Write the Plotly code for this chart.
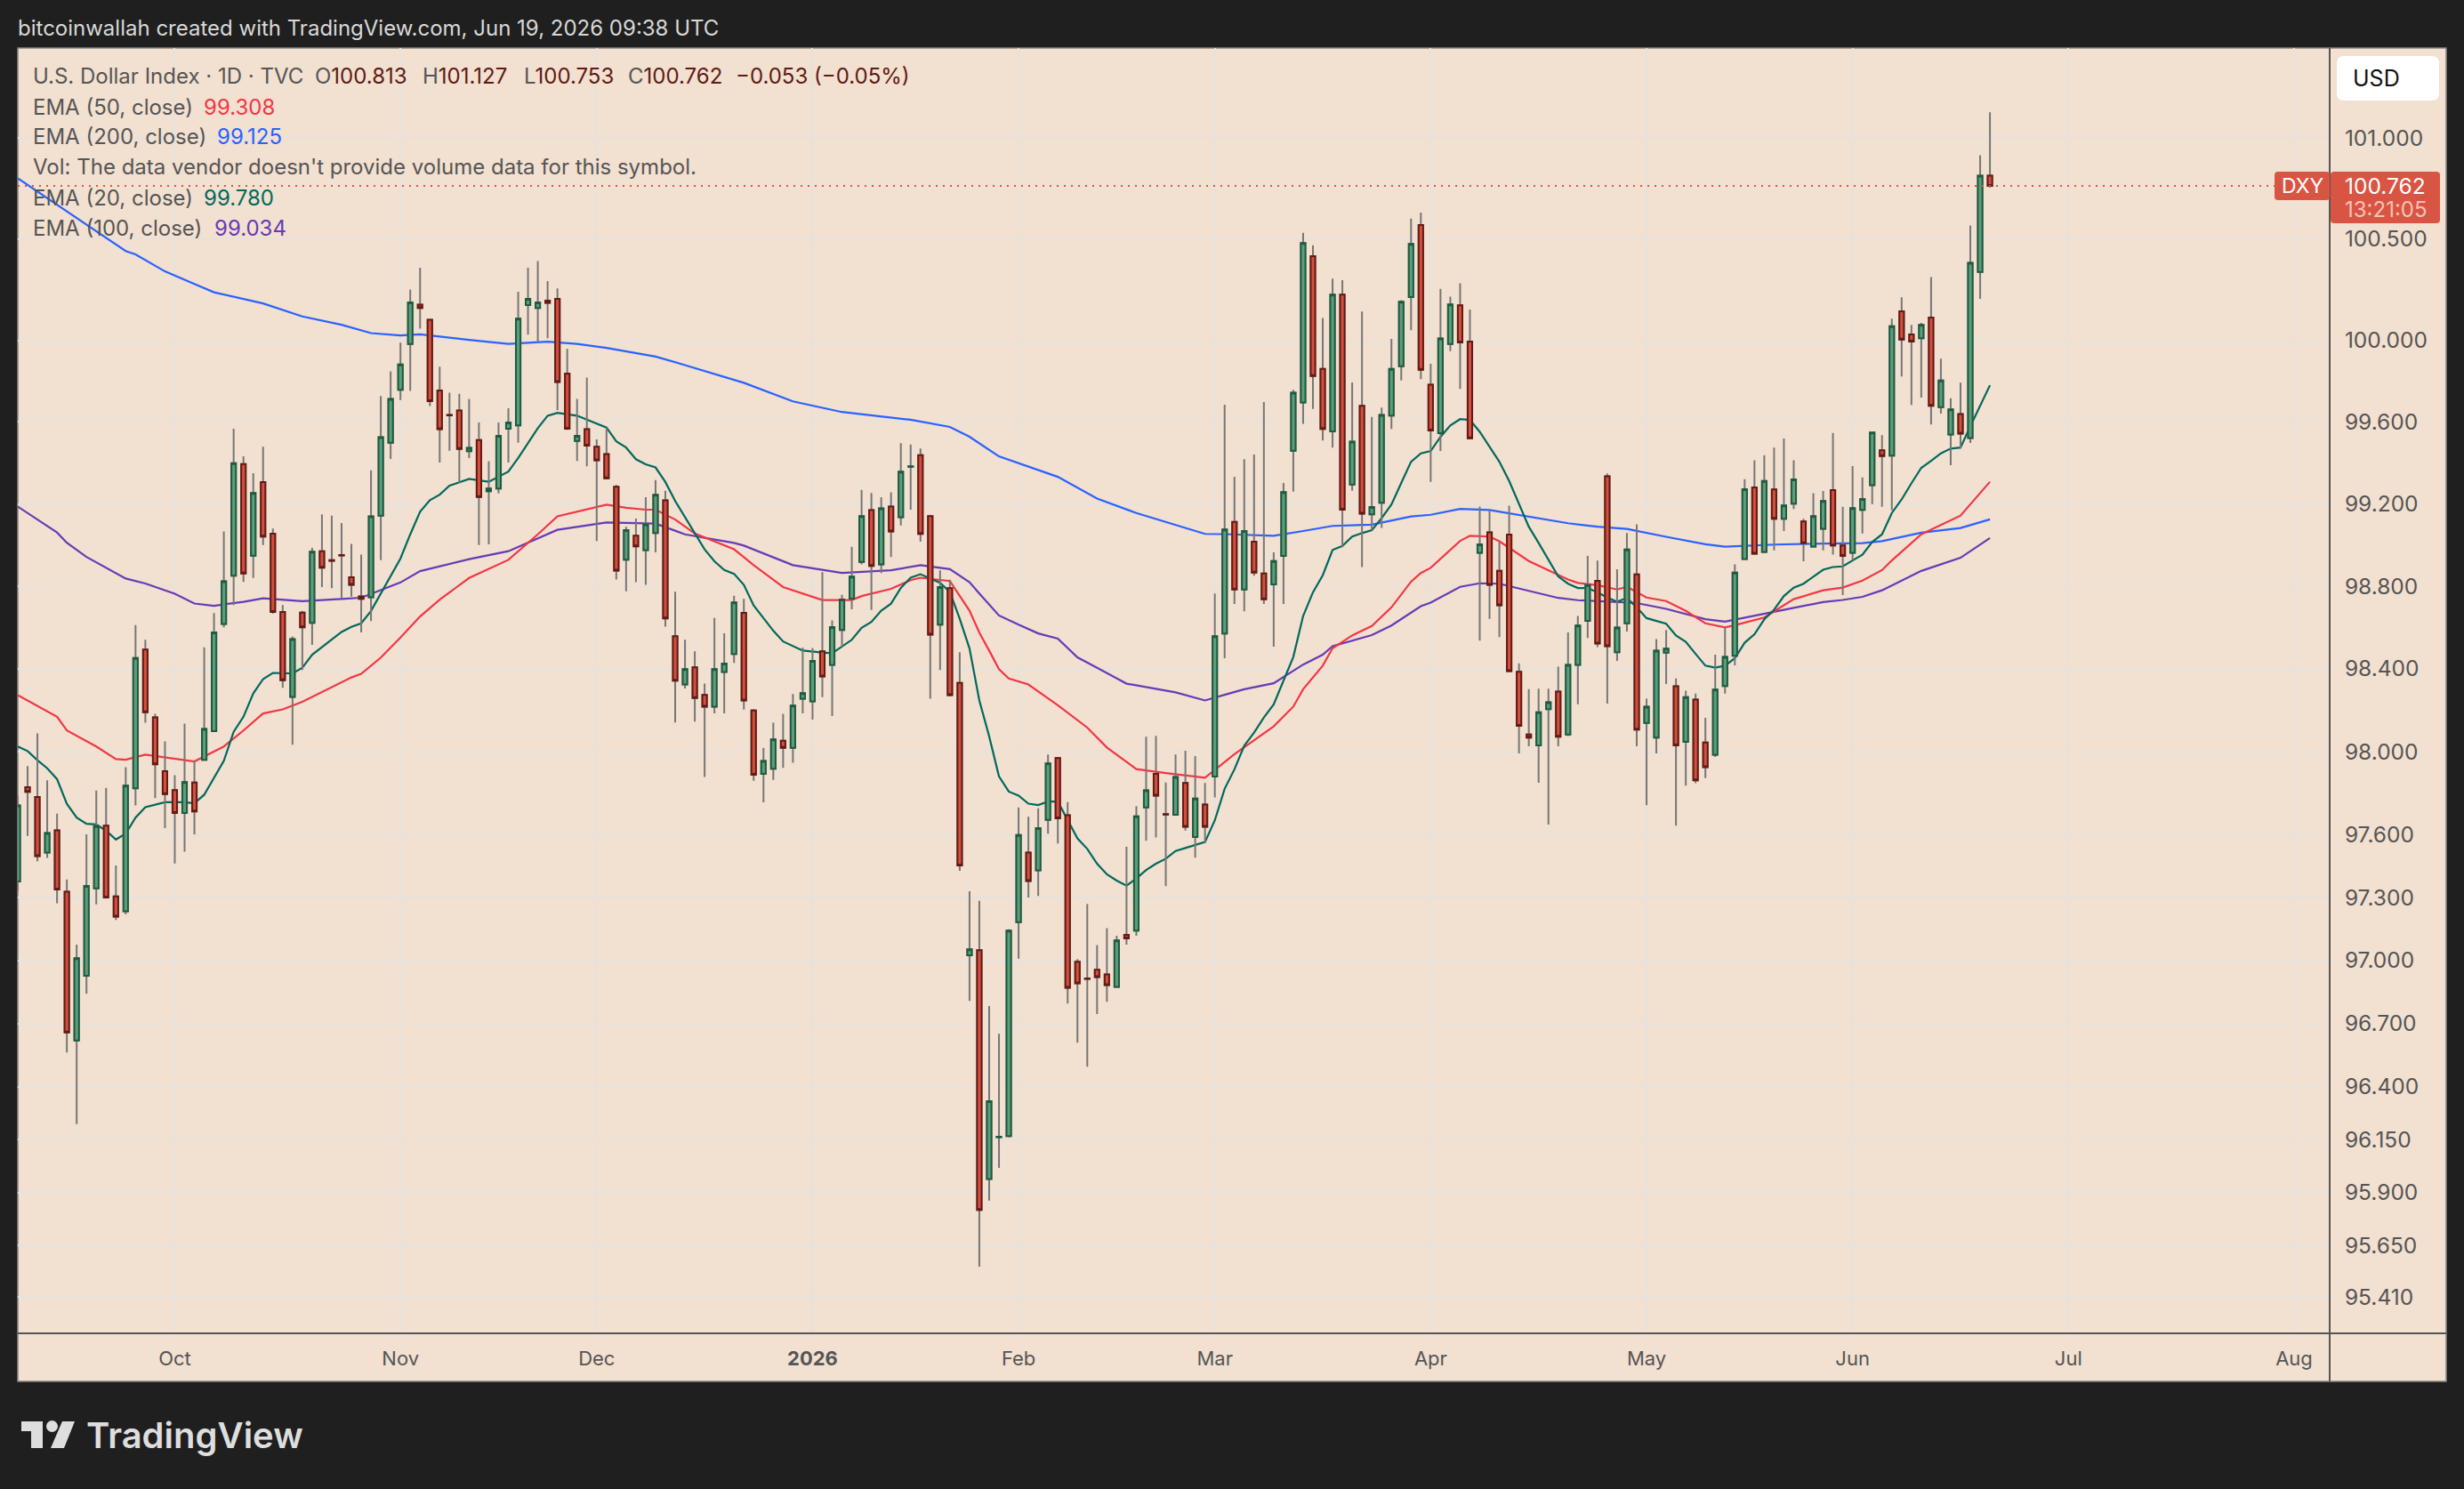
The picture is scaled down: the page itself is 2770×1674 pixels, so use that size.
import math
import pandas as pd
import plotly.graph_objects as go

# Daily bars
holidays = ["2025-12-25", "2026-01-01"]
bar_dates = pd.bdate_range("2025-09-09", "2026-06-19").strftime("%Y-%m-%d")
bar_dates = [d for d in bar_dates if d not in holidays]

open_px = [
    97.377, 97.829, 97.782, 97.515, 97.622, 97.328, 96.619, 96.927, 97.344, 97.644,
    97.306, 97.234, 97.824, 98.493, 98.165, 97.906, 97.815, 97.705, 97.851, 97.961,
    98.099, 98.617, 98.851, 99.394, 98.948, 99.306, 99.055, 98.675, 98.264, 98.672,
    98.622, 98.97, 98.926, 98.951, 98.843, 98.75, 98.746, 99.143, 99.499, 99.758,
    99.983, 100.176, 100.102, 99.755, 99.635, 99.656, 99.457, 99.512, 99.262, 99.275,
    99.567, 99.584, 100.174, 100.16, 100.196, 100.204, 99.837, 99.507, 99.565, 99.479,
    99.443, 99.284, 98.929, 99.045, 98.975, 99.058, 99.218, 98.557, 98.324, 98.407,
    98.274, 98.217, 98.384, 98.471, 98.671, 98.199, 97.893, 97.918, 98.053, 98.018,
    98.255, 98.242, 98.484, 98.419, 98.588, 98.74, 98.918, 99.17, 98.906, 99.187,
    99.135, 99.381, 99.438, 99.141, 98.613, 98.79, 98.332, 97.024, 97.049, 95.964,
    96.161, 96.166, 97.182, 97.515, 97.43, 97.672, 97.969, 97.695, 96.994, 96.914,
    96.955, 96.933, 96.874, 97.122, 97.142, 97.732, 97.893, 97.70, 97.697, 97.849,
    97.59, 97.746, 97.88, 98.57, 99.112, 98.784, 99.016, 98.862, 98.809, 98.947,
    99.46, 99.696, 100.415, 99.86, 99.554, 100.225, 99.295, 99.679, 99.149, 99.206,
    99.631, 99.873, 100.213, 100.569, 99.783, 99.545, 99.983, 100.173, 99.994, 98.962,
    99.062, 98.874, 99.051, 98.385, 98.083, 98.03, 98.205, 98.29, 98.083, 98.419,
    98.632, 98.826, 99.335, 98.48, 98.62, 98.857, 98.138, 98.068, 98.478, 98.315,
    98.047, 98.251, 98.044, 97.985, 98.317, 98.463, 98.932, 99.28, 98.966, 99.271,
    99.128, 99.201, 99.115, 98.992, 99.079, 99.267, 98.998, 98.962, 99.171, 99.291,
    99.462, 99.436, 100.143, 100.03, 100.011, 100.113, 99.673, 99.539, 99.639, 99.522,
    100.337, 100.813,
]
high_px = [
    97.79, 97.931, 98.088, 97.862, 97.702, 97.386, 97.075, 97.603, 97.813, 97.826,
    97.454, 97.925, 98.611, 98.54, 98.182, 98.049, 97.887, 98.135, 97.956, 98.504,
    98.669, 99.066, 99.567, 99.432, 99.35, 99.479, 99.08, 98.708, 98.556, 98.68,
    98.986, 99.149, 99.143, 99.107, 99.005, 98.953, 99.364, 99.727, 99.848, 99.989,
    100.251, 100.358, 100.105, 99.871, 99.744, 99.738, 99.713, 99.598, 99.408, 99.598,
    99.667, 100.24, 100.358, 100.391, 100.292, 100.256, 99.959, 99.713, 99.818, 99.515,
    99.573, 99.292, 99.089, 99.129, 99.233, 99.316, 99.264, 98.773, 98.54, 98.484,
    98.328, 98.646, 98.571, 98.754, 98.738, 98.205, 98.018, 98.139, 98.182, 98.278,
    98.503, 98.50, 98.868, 98.634, 98.758, 98.991, 99.268, 99.253, 99.233, 99.257,
    99.497, 99.49, 99.47, 99.147, 98.877, 98.831, 98.48, 97.33, 97.284, 96.783,
    96.651, 97.148, 97.732, 97.687, 97.728, 97.986, 97.969, 97.757, 97.006, 97.27,
    97.073, 97.154, 97.118, 97.543, 97.738, 98.072, 98.076, 97.852, 97.986, 98.004,
    97.979, 97.849, 98.764, 99.685, 99.333, 99.418, 99.441, 99.698, 98.964, 99.302,
    99.758, 100.53, 100.469, 100.11, 100.304, 100.296, 99.794, 100.142, 99.625, 99.671,
    100.008, 100.198, 100.60, 100.63, 99.885, 100.254, 100.215, 100.281, 100.152, 99.187,
    99.17, 99.014, 99.191, 98.426, 98.302, 98.304, 98.304, 98.41, 98.576, 98.655,
    98.947, 98.924, 99.349, 98.882, 99.058, 99.101, 98.255, 98.543, 98.588, 98.353,
    98.294, 98.28, 98.163, 98.468, 98.603, 98.906, 99.321, 99.413, 99.438, 99.475,
    99.519, 99.413, 99.128, 99.252, 99.263, 99.547, 99.186, 99.385, 99.329, 99.551,
    99.536, 100.107, 100.212, 100.077, 100.086, 100.312, 99.91, 99.716, 99.793, 100.566,
    100.914, 101.127,
]
low_px = [
    97.33, 97.595, 97.474, 97.490, 97.273, 96.562, 96.223, 96.841, 97.267, 97.295,
    97.193, 97.22, 97.741, 98.14, 97.777, 97.633, 97.463, 97.52, 97.603, 97.96,
    98.095, 98.60, 98.708, 98.821, 98.84, 99.0, 98.667, 98.308, 98.033, 98.394,
    98.515, 98.796, 98.79, 98.741, 98.749, 98.576, 98.631, 98.926, 99.419, 99.708,
    99.752, 100.058, 99.678, 99.402, 99.46, 99.303, 99.424, 99.0, 99.003, 99.251,
    99.402, 99.499, 100.028, 99.989, 100.011, 99.658, 99.562, 99.41, 99.383, 99.019,
    99.32, 98.832, 98.775, 98.819, 98.806, 98.964, 98.604, 98.141, 98.305, 98.145,
    97.878, 98.184, 98.184, 98.428, 98.203, 97.86, 97.756, 97.864, 97.922, 97.947,
    98.184, 98.155, 98.263, 98.172, 98.507, 98.688, 98.906, 98.685, 98.864, 98.941,
    99.095, 99.172, 99.016, 98.255, 98.394, 98.266, 97.428, 96.807, 95.552, 95.862,
    96.016, 96.16, 97.008, 97.30, 97.308, 97.606, 97.559, 96.795, 96.609, 96.495,
    96.745, 96.803, 96.87, 97.075, 97.118, 97.572, 97.588, 97.355, 97.695, 97.621,
    97.491, 97.561, 97.78, 98.451, 98.714, 98.678, 98.851, 98.714, 98.507, 98.714,
    99.26, 99.591, 99.664, 99.51, 99.475, 98.989, 99.264, 98.893, 99.072, 99.083,
    99.566, 99.804, 100.05, 99.81, 99.308, 99.458, 99.948, 99.762, 99.515, 98.536,
    98.641, 98.553, 98.383, 97.992, 98.026, 97.85, 97.65, 98.026, 98.075, 98.228,
    98.549, 98.505, 98.232, 98.438, 98.58, 98.026, 97.742, 97.992, 98.326, 97.644,
    97.837, 97.848, 97.873, 97.975, 98.28, 98.417, 98.928, 98.953, 98.96, 98.974,
    99.068, 99.175, 98.921, 98.99, 98.974, 98.953, 98.757, 98.925, 99.056, 99.199,
    99.186, 99.169, 99.823, 99.684, 99.72, 99.588, 99.641, 99.389, 99.47, 99.498,
    100.205, 100.753,
]
close_px = [
    97.741, 97.807, 97.498, 97.609, 97.339, 96.657, 97.011, 97.356, 97.642, 97.30,
    97.209, 97.837, 98.452, 98.19, 97.939, 97.796, 97.705, 97.854, 97.713, 98.11,
    98.576, 98.824, 99.399, 98.862, 99.253, 99.041, 98.675, 98.344, 98.543, 98.60,
    98.967, 98.89, 98.923, 98.949, 98.807, 98.738, 99.14, 99.526, 99.713, 99.882,
    100.187, 100.16, 99.702, 99.565, 99.633, 99.468, 99.474, 99.234, 99.275, 99.532,
    99.598, 100.107, 100.204, 100.187, 100.185, 99.796, 99.567, 99.532, 99.485, 99.413,
    99.325, 98.876, 99.072, 98.993, 99.101, 99.245, 98.644, 98.342, 98.398, 98.259,
    98.217, 98.398, 98.425, 98.721, 98.247, 97.889, 97.955, 98.059, 98.018, 98.222,
    98.282, 98.438, 98.363, 98.602, 98.735, 98.846, 99.141, 98.898, 99.178, 99.066,
    99.357, 99.383, 99.054, 98.565, 98.796, 98.272, 97.454, 97.053, 95.818, 96.332,
    96.163, 97.142, 97.6, 97.379, 97.633, 97.944, 97.68, 96.87, 96.891, 96.912,
    96.921, 96.882, 97.095, 97.105, 97.689, 97.814, 97.788, 97.698, 97.878, 97.639,
    97.775, 97.639, 98.557, 99.076, 98.784, 99.068, 98.866, 98.736, 98.922, 99.258,
    99.744, 100.48, 99.825, 99.566, 100.225, 99.172, 99.504, 99.153, 99.185, 99.635,
    99.86, 100.19, 100.475, 99.856, 99.558, 100.01, 100.177, 99.99, 99.52, 99.003,
    98.807, 98.707, 98.389, 98.124, 98.068, 98.19, 98.238, 98.072, 98.419, 98.609,
    98.805, 98.522, 98.509, 98.599, 98.978, 98.106, 98.217, 98.488, 98.497, 98.03,
    98.263, 97.862, 97.925, 98.299, 98.457, 98.866, 99.272, 98.958, 99.312, 99.128,
    99.193, 99.319, 99.009, 99.141, 99.214, 98.998, 98.947, 99.18, 99.224, 99.549,
    99.434, 100.07, 100.004, 99.994, 100.077, 99.679, 99.804, 99.662, 99.543, 100.382,
    100.813, 100.762,
]

# EMA lines, read at the listed bar numbers
ema200_bars = [0, 11, 12, 14, 15, 18, 20, 25, 29, 33, 36, 39, 41, 46, 50, 54, 57, 60, 65, 68, 74, 79, 84, 91, 95, 97,
               100, 106, 110, 114, 118, 121, 123, 128, 131, 134, 138, 142, 144, 147, 150, 154, 158, 161, 164, 168, 172,
               174, 179, 184, 188, 190, 194, 198, 201]
ema200_vals = [100.80, 100.44, 100.424, 100.366, 100.34, 100.278, 100.237, 100.182, 100.118, 100.077, 100.036, 100.025,
               100.03, 100.003, 99.983, 99.994, 99.983, 99.963, 99.921, 99.879, 99.792, 99.701, 99.649, 99.611, 99.576,
               99.528, 99.432, 99.332, 99.226, 99.156, 99.099, 99.054, 99.053, 99.045, 99.068, 99.093, 99.099, 99.139,
               99.147, 99.176, 99.17, 99.139, 99.106, 99.089, 99.078, 99.04, 99.004, 98.992, 99.002, 99.007, 99.009,
               99.019, 99.06, 99.083, 99.125]
ema100_bars = [0, 4, 5, 7, 11, 13, 16, 18, 20, 23, 25, 29, 33, 35, 39, 41, 46, 50, 55, 60, 65, 68, 73, 74, 79, 84, 89,
               92, 95, 97, 98, 99, 100, 102, 104, 106, 108, 110, 113, 118, 121, 123, 125, 128, 131, 133, 134, 138, 140,
               143, 144, 147, 149, 151, 154, 157, 159, 162, 165, 168, 172, 174, 176, 181, 184, 186, 188, 190, 194, 198,
               201]
ema100_vals = [99.187, 99.061, 99.011, 98.942, 98.837, 98.813, 98.763, 98.716, 98.705, 98.724, 98.741, 98.727, 98.738,
               98.744, 98.818, 98.873, 98.931, 98.97, 99.074, 99.11, 99.104, 99.052, 99.01, 98.997, 98.902, 98.864,
               98.877, 98.902, 98.883, 98.819, 98.764, 98.71, 98.658, 98.613, 98.571, 98.546, 98.455, 98.405, 98.328,
               98.286, 98.247, 98.274, 98.301, 98.33, 98.42, 98.468, 98.509, 98.563, 98.609, 98.703, 98.72, 98.797,
               98.814, 98.812, 98.778, 98.743, 98.732, 98.726, 98.718, 98.69, 98.64, 98.628, 98.648, 98.695, 98.723,
               98.733, 98.748, 98.78, 98.874, 98.938, 99.034]
ema50_bars = [0, 4, 5, 8, 10, 11, 13, 16, 18, 21, 23, 25, 27, 29, 34, 35, 37, 39, 41, 43, 46, 50, 53, 55, 59, 60, 62,
              64, 65, 67, 69, 73, 74, 75, 78, 82, 85, 86, 89, 91, 92, 95, 97, 98, 99, 100, 101, 103, 105, 106, 109,
              111, 114, 117, 121, 123, 124, 128, 130, 131, 133, 134, 136, 138, 140, 142, 143, 144, 147, 148, 150, 151,
              154, 158, 159, 161, 163, 164, 166, 168, 170, 172, 174, 175, 178, 181, 184, 186, 188, 190, 191, 194, 198,
              201]
ema50_vals = [98.273, 98.168, 98.102, 98.025, 97.964, 97.961, 97.986, 97.967, 97.953, 98.025, 98.102, 98.184, 98.204,
              98.24, 98.358, 98.375, 98.454, 98.551, 98.653, 98.735, 98.84, 98.928, 99.052, 99.14, 99.187, 99.196,
              99.181, 99.172, 99.172, 99.124, 99.056, 98.979, 98.941, 98.902, 98.796, 98.733, 98.733, 98.752, 98.787,
              98.829, 98.841, 98.825, 98.681, 98.575, 98.488, 98.398, 98.353, 98.324, 98.257, 98.224, 98.116, 98.02,
              97.916, 97.897, 97.875, 97.952, 97.988, 98.122, 98.217, 98.301, 98.415, 98.499, 98.561, 98.607, 98.697,
              98.822, 98.864, 98.889, 99.02, 99.045, 99.041, 99.018, 98.922, 98.832, 98.816, 98.805, 98.784, 98.797,
              98.745, 98.728, 98.68, 98.62, 98.6, 98.611, 98.648, 98.737, 98.78, 98.793, 98.827, 98.878, 98.925,
              99.052, 99.143, 99.308]
ema20_bars = [0, 1, 2, 3, 4, 5, 6, 7, 8, 9, 10, 11, 12, 13, 15, 17, 18, 19, 21, 22, 23, 24, 25, 26, 28, 29, 30, 33, 34,
              35, 36, 37, 39, 40, 41, 42, 43, 44, 46, 48, 50, 51, 53, 54, 55, 57, 60, 61, 62, 63, 64, 65, 66, 67, 68,
              69, 70, 71, 72, 73, 74, 75, 77, 78, 80, 82, 83, 85, 86, 87, 88, 89, 90, 91, 92, 94, 95, 96, 97, 98, 99,
              100, 101, 102, 103, 104, 105, 106, 107, 108, 109, 110, 111, 112, 113, 114, 115, 116, 117, 118, 119, 120,
              121, 122, 123, 124, 125, 126, 127, 128, 129, 130, 131, 132, 133, 134, 135, 136, 137, 138, 139, 140, 141,
              142, 143, 144, 145, 146, 147, 148, 149, 150, 151, 152, 153, 154, 155, 156, 157, 158, 159, 160, 161, 162,
              163, 164, 165, 166, 167, 168, 169, 170, 171, 172, 173, 174, 175, 176, 177, 178, 179, 180, 181, 182, 183,
              184, 185, 186, 187, 188, 189, 190, 191, 192, 193, 194, 195, 196, 197, 198, 199, 200, 201]
ema20_vals = [98.025, 98.003, 97.959, 97.92, 97.868, 97.749, 97.683, 97.653, 97.65, 97.62, 97.578, 97.606, 97.683,
              97.733, 97.757, 97.757, 97.752, 97.793, 97.956, 98.096, 98.168, 98.281, 98.35, 98.38, 98.377, 98.405,
              98.468, 98.578, 98.603, 98.62, 98.68, 98.763, 98.934, 99.052, 99.162, 99.218, 99.245, 99.289, 99.322,
              99.308, 99.358, 99.424, 99.57, 99.631, 99.645, 99.631, 99.573, 99.506, 99.475, 99.418, 99.393, 99.378,
              99.307, 99.214, 99.137, 99.056, 98.979, 98.921, 98.879, 98.86, 98.806, 98.706, 98.584, 98.532, 98.488,
              98.478, 98.475, 98.54, 98.598, 98.627, 98.681, 98.715, 98.792, 98.841, 98.858, 98.816, 98.771, 98.642,
              98.498, 98.247, 98.074, 97.881, 97.808, 97.789, 97.75, 97.743, 97.76, 97.76, 97.67, 97.583, 97.533,
              97.462, 97.411, 97.381, 97.357, 97.391, 97.432, 97.462, 97.486, 97.523, 97.537, 97.553, 97.566, 97.67,
              97.821, 97.915, 98.029, 98.092, 98.165, 98.228, 98.342, 98.457, 98.655, 98.77, 98.853, 98.976, 98.995,
              99.041, 99.058, 99.072, 99.131, 99.197, 99.302, 99.406, 99.447, 99.458, 99.527, 99.583, 99.614, 99.61,
              99.552, 99.479, 99.406, 99.312, 99.197, 99.089, 99.01, 98.926, 98.847, 98.812, 98.791, 98.791, 98.77,
              98.745, 98.724, 98.743, 98.697, 98.645, 98.63, 98.618, 98.561, 98.53, 98.472, 98.415, 98.405, 98.415,
              98.451, 98.526, 98.567, 98.639, 98.686, 98.752, 98.793, 98.812, 98.846, 98.88, 98.893, 98.896, 98.925,
              98.953, 99.015, 99.052, 99.156, 99.222, 99.301, 99.376, 99.41, 99.447, 99.47, 99.475, 99.579, 99.682,
              99.78]

price_ticks = [101, 100.5, 100, 99.6, 99.2, 98.8, 98.4, 98, 97.6, 97.3, 97, 96.7, 96.4, 96.15, 95.9, 95.65, 95.41]
month_ticks = ["2025-10-01", "2025-11-03", "2025-12-01", "2026-01-02", "2026-02-02", "2026-03-02", "2026-04-01",
               "2026-05-01", "2026-06-01", "2026-07-01", "2026-08-03"]
month_labels = ["Oct", "Nov", "Dec", "<b>2026</b>", "Feb", "Mar", "Apr", "May", "Jun", "Jul", "Aug"]

# Colours
BG = "#f2e0d0"
DARK = "#1f1f1f"
GRID = "#e6e2dd"
AXIS = "#555555"
TEXT = "#555555"
MAROON = "#5e1a14"
RED_LABEL = "#d95543"
C_EMA50 = "#f23645"
C_EMA200 = "#2962ff"
C_EMA20 = "#00695c"
C_EMA100 = "#673ab7"
FONT = "Inter"

# Pane edges in page pixels
W, H = 2770, 1674
LEFT, RIGHT, TOP, BOTTOM = 20, 2619, 54, 1499
OUTER_R, OUTER_B = 2750, 1553


def px(x):
    return (x - LEFT) / (RIGHT - LEFT)


def py(y):
    return (BOTTOM - y) / (BOTTOM - TOP)


def round_rect(x0, y0, x1, y1, r):
    return (f"M {px(x0 + r)} {py(y0)} L {px(x1 - r)} {py(y0)} Q {px(x1)} {py(y0)} {px(x1)} {py(y0 + r)} "
            f"L {px(x1)} {py(y1 - r)} Q {px(x1)} {py(y1)} {px(x1 - r)} {py(y1)} L {px(x0 + r)} {py(y1)} "
            f"Q {px(x0)} {py(y1)} {px(x0)} {py(y1 - r)} L {px(x0)} {py(y0 + r)} Q {px(x0)} {py(y0)} {px(x0 + r)} {py(y0)} Z")


fig = go.Figure()


def ema_trace(bars, vals, color, name):
    fig.add_trace(go.Scatter(x=[bar_dates[i] for i in bars], y=vals, mode="lines", name=name,
                             line=dict(color=color, width=2.2), hoverinfo="skip", zorder=0))


ema_trace(ema200_bars, ema200_vals, C_EMA200, "EMA 200")
ema_trace(ema100_bars, ema100_vals, C_EMA100, "EMA 100")
ema_trace(ema50_bars, ema50_vals, C_EMA50, "EMA 50")
ema_trace(ema20_bars, ema20_vals, C_EMA20, "EMA 20")

# Wicks are grey in the picture, bodies have a darker border, so two traces
WICK = dict(line=dict(color="#777777", width=2), fillcolor="#777777")
fig.add_trace(go.Candlestick(x=bar_dates, open=open_px, high=high_px, low=low_px, close=close_px,
                             increasing=WICK, decreasing=WICK, whiskerwidth=0, hoverinfo="skip", zorder=1))
fig.add_trace(go.Candlestick(x=bar_dates, open=open_px, close=close_px,
                             high=[max(o, c) for o, c in zip(open_px, close_px)],
                             low=[min(o, c) for o, c in zip(open_px, close_px)],
                             increasing=dict(line=dict(color="#1d5c40", width=2), fillcolor="#5f9e7c"),
                             decreasing=dict(line=dict(color="#651a13", width=2), fillcolor="#d2503f"),
                             whiskerwidth=0, hoverinfo="skip", zorder=2))

# Last price line
fig.add_trace(go.Scatter(x=[bar_dates[0], "2026-07-30"], y=[close_px[-1], close_px[-1]], mode="lines",
                         line=dict(color="#d95543", width=2, dash="2px,6px"), hoverinfo="skip", zorder=3))

shapes = [
    # beige chart card
    dict(type="rect", xref="paper", yref="paper", x0=px(LEFT), x1=px(OUTER_R), y0=py(TOP), y1=py(OUTER_B),
         fillcolor=BG, line=dict(color="#8a8580", width=1.5), layer="below"),
    # axis dividers
    dict(type="line", xref="paper", yref="paper", x0=px(RIGHT), x1=px(RIGHT), y0=py(TOP), y1=py(OUTER_B),
         line=dict(color=AXIS, width=2)),
    dict(type="line", xref="paper", yref="paper", x0=px(LEFT), x1=px(OUTER_R), y0=py(BOTTOM), y1=py(BOTTOM),
         line=dict(color=AXIS, width=2)),
    # USD button and price labels
    dict(type="path", xref="paper", yref="paper", path=round_rect(2627, 63, 2742, 113, 8), fillcolor="#ffffff",
         line=dict(width=0)),
    dict(type="path", xref="paper", yref="paper", path=round_rect(2557, 193, 2619, 225, 4), fillcolor=RED_LABEL,
         line=dict(width=0)),
    dict(type="path", xref="paper", yref="paper", path=round_rect(2620, 193, 2743, 251, 4), fillcolor=RED_LABEL,
         line=dict(width=0)),
    # TradingView mark
    dict(type="rect", xref="paper", yref="paper", x0=px(24), x1=px(48), y0=py(1598), y1=py(1609),
         fillcolor="#dedede", line=dict(width=0)),
    dict(type="rect", xref="paper", yref="paper", x0=px(35), x1=px(48), y0=py(1598), y1=py(1628),
         fillcolor="#dedede", line=dict(width=0)),
    dict(type="circle", xref="paper", yref="paper", x0=px(52), x1=px(65), y0=py(1597), y1=py(1610),
         fillcolor="#dedede", line=dict(width=0)),
    dict(type="path", xref="paper", yref="paper",
         path=f"M {px(70)} {py(1598)} L {px(84)} {py(1598)} L {px(72)} {py(1628)} L {px(57)} {py(1628)} Z",
         fillcolor="#dedede", line=dict(width=0)),
]


def label(x, y, text, size=24, color=TEXT, weight=400):
    return dict(xref="paper", yref="paper", x=px(x), y=py(y), text=text, showarrow=False, xanchor="left",
                yanchor="middle", align="left", font=dict(family=FONT, size=size, color=color, weight=weight),
                borderpad=0, borderwidth=0)


annotations = [
    label(20, 32, "bitcoinwallah created with TradingView.com, Jun 19, 2026 09:38 UTC", 24, "#d8d8d8"),
    label(37, 85, "U.S. Dollar Index · 1D · TVC"),
    label(354, 85, f'O<span style="color:{MAROON}">100.813</span>'),
    label(475, 85, f'H<span style="color:{MAROON}">101.127</span>'),
    label(589, 85, f'L<span style="color:{MAROON}">100.753</span>'),
    label(706, 85, f'C<span style="color:{MAROON}">100.762</span>'),
    label(827, 85, "−0.053 (−0.05%)", color=MAROON),
    label(37, 120, "EMA (50, close)"),
    label(229, 120, "99.308", color=C_EMA50),
    label(37, 154, "EMA (200, close)"),
    label(244, 154, "99.125", color=C_EMA200),
    label(37, 188, "Vol: The data vendor doesn't provide volume data for this symbol."),
    label(37, 222, "EMA (20, close)"),
    label(229, 222, "99.780", color=C_EMA20),
    label(37, 256, "EMA (100, close)"),
    label(241, 256, "99.034", color=C_EMA100),
    label(2645, 88, "USD", 25, "#111111"),
    label(2565, 209, "DXY", 23, "#ffffff"),
    label(2636, 209, "100.762", 24.5, "#ffffff"),
    label(2636, 235, "13:21:05", 24, "#f6c1b6"),
    label(97, 1613, "TradingView", 40, "#dedede", 600),
]

fig.update_layout(
    width=W, height=H, autosize=False,
    margin=dict(l=LEFT, r=W - RIGHT, t=TOP, b=H - BOTTOM, pad=0),
    paper_bgcolor=DARK, plot_bgcolor=BG,
    showlegend=False, boxgap=0.34, boxmode="overlay",
    shapes=shapes, annotations=annotations,
    xaxis=dict(
        type="date", range=["2025-09-09", "2026-08-06 15:00"],
        rangebreaks=[dict(bounds=["sat", "mon"]), dict(values=holidays)],
        rangeslider=dict(visible=False),
        tickmode="array", tickvals=month_ticks, ticktext=month_labels,
        showgrid=True, gridcolor=GRID, gridwidth=2, zeroline=False,
        ticks="outside", ticklen=9, tickcolor="rgba(0,0,0,0)",
        tickfont=dict(family=FONT, size=22, color=TEXT), tickangle=0,
    ),
    yaxis=dict(
        type="log", side="right", range=[math.log10(95.239), math.log10(101.447)],
        tickmode="array", tickvals=price_ticks, ticktext=[f"{v:.3f}" for v in price_ticks],
        showgrid=True, gridcolor=GRID, gridwidth=2, zeroline=False,
        ticks="outside", ticklen=11, tickcolor="rgba(0,0,0,0)",
        tickfont=dict(family=FONT, size=24.5, color=TEXT),
    ),
)

fig.write_html("out.html", config=dict(displayModeBar=False), post_script="document.body.style.margin='0';")
